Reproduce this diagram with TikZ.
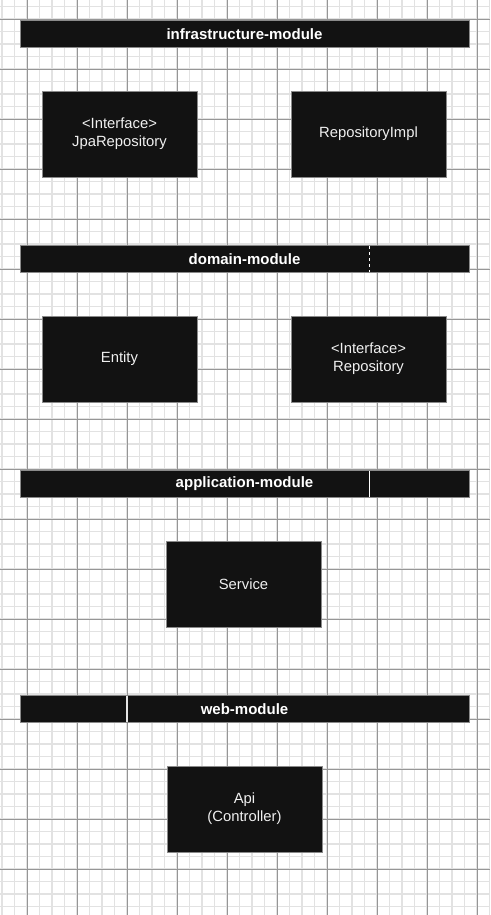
\documentclass[tikz,border=0pt]{standalone}
\usepackage{fontspec}
\setmainfont{Liberation Sans}
\definecolor{boxblack}{HTML}{121212}
\definecolor{minorgray}{HTML}{E2E2E2}
\definecolor{majorgray}{HTML}{969696}
\definecolor{edgegray}{HTML}{8A8A8A}
\definecolor{textwhite}{HTML}{F0F0F0}
\begin{document}
\begin{tikzpicture}[x=1pt,y=-1pt,
    modbar/.style={fill=boxblack, draw=edgegray, line width=0.8pt, minimum width=449pt, minimum height=27pt, inner sep=0pt, text=white, font=\fontsize{15}{17}\selectfont\bfseries},
    classbox/.style={fill=boxblack, draw=edgegray, line width=0.8pt, minimum width=155pt, minimum height=86pt, inner sep=0pt, text=textwhite, align=center, font=\fontsize{14.8}{18}\selectfont},
    minorline/.style={draw=minorgray, line width=1.2pt},
    majorline/.style={draw=majorgray, line width=0.9pt}]
	\useasboundingbox (0,0) rectangle (490,915);
	\clip (0,0) rectangle (490,915);
	\fill[white] (0,0) rectangle (490,915);

	% grid paper
	\foreach \i in {0,...,39} \draw[minorline] ({2+12.5*\i},0) -- ++(0,915);
	\foreach \i in {0,...,73} \draw[minorline] (0,{6.5+12.5*\i}) -- ++(490,0);
	\foreach \i in {0,...,9} \draw[majorline] ({27+50*\i},0) -- ++(0,915);
	\foreach \i in {0,...,18} \draw[majorline] (0,{19+50*\i}) -- ++(490,0);

	% module bars
	\node[modbar] (infrabar) at (244.5,34) {infrastructure-module};
	\node[modbar] (domainbar) at (244.5,259) {domain-module};
	\node[modbar] (appbar) at (244.5,484) {application-module};
	\node[modbar] (webbar) at (244.5,709) {web-module};

	\draw[white, dashed, line width=1pt] (369,246) -- (369,272);
	\draw[white, line width=1pt] (369,471) -- (369,497);
	\draw[white!80!gray, line width=1.5pt] (127,696) -- (127,722);

	% classes
	\node[classbox] (jparepo) at (119.5,134) {<Interface>\\JpaRepository};
	\node[classbox] (repoimpl) at (368.5,134) {RepositoryImpl};
	\node[classbox] (entity) at (119.5,359) {Entity};
	\node[classbox] (repo) at (368.5,359) {<Interface>\\Repository};
	\node[classbox] (service) at (243.5,584) {Service};
	\node[classbox] (api) at (244.5,809) {Api\\(Controller)};
\end{tikzpicture}
\end{document}
